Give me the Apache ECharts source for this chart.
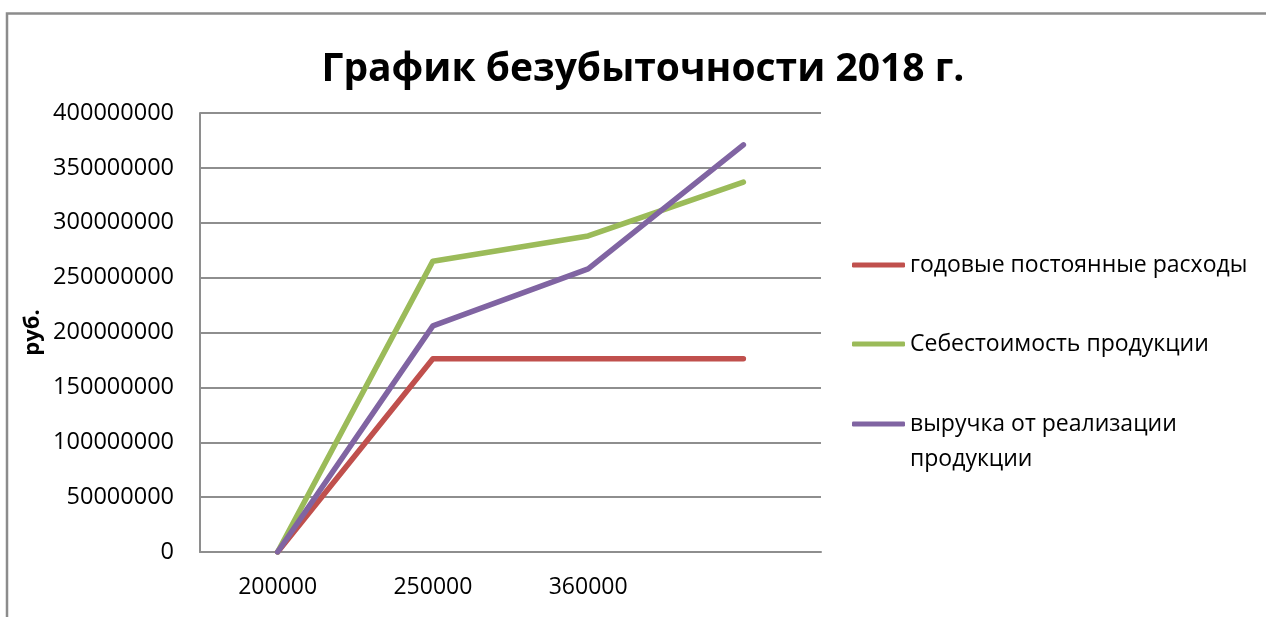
<!DOCTYPE html>
<html>
<head>
<meta charset="utf-8">
<script src="https://cdn.jsdelivr.net/npm/echarts@6/dist/echarts.min.js"></script>
<style>
html,body{margin:0;padding:0;background:#fff;}
#c{width:1266px;height:617px;}
</style>
</head>
<body>
<div id="c"></div>
<script>
var titleText = 'График безубыточности 2018 г.';
var yAxisName = 'руб.';
var categories = ['200000', '250000', '360000', ''];
var seriesNames = ['годовые постоянные расходы', 'Себестоимость продукции', 'выручка от реализации продукции'];
var fixedCosts = [0, 176000000, 176000000, 176000000];
var productCost = [0, 265000000, 288000000, 337000000];
var revenue = [0, 206000000, 258000000, 371000000];
var colors = ['#C0504D', '#9BBB59', '#8064A2'];

var FONT = '"Open Sans", "Noto Sans", sans-serif';
var chart = echarts.init(document.getElementById('c'), null, {renderer: 'canvas'});

function legendFor(i, top) {
  return {
    data: [seriesNames[i]],
    left: 852,
    top: top,
    padding: 0,
    orient: 'vertical',
    icon: 'roundRect',
    itemWidth: 53,
    itemHeight: 5,
    selectedMode: false,
    formatter: function (name) {
      if (name === seriesNames[2]) return ' \nвыручка от реализации\nпродукции';
      return name;
    },
    textStyle: {fontFamily: FONT, fontSize: 23, color: '#000', lineHeight: 35}
  };
}

var series = [fixedCosts, productCost, revenue].map(function (d, i) {
  return {
    name: seriesNames[i],
    type: 'line',
    data: d,
    symbol: 'none',
    showSymbol: false,
    lineStyle: {color: colors[i], width: 5.5, cap: 'round', join: 'round'},
    itemStyle: {color: colors[i]}
  };
});

chart.setOption({
  animation: false,
  backgroundColor: '#fff',
  title: {
    text: titleText,
    left: 638,
    top: 45,
    textAlign: 'center',
    textStyle: {fontFamily: FONT, fontSize: 39, fontWeight: 'bold', color: '#000'}
  },
  graphic: [{
    type: 'rect',
    shape: {x: 7, y: 13.5, width: 1400, height: 800},
    style: {fill: 'none', stroke: '#8c8c8c', lineWidth: 2.5},
    silent: true
  }],
  legend: [legendFor(0, 247.5), legendFor(1, 326.5), legendFor(2, 371.5)],
  grid: {left: 200, top: 113, right: 445, bottom: 65, containLabel: false},
  xAxis: {
    type: 'category',
    data: categories,
    boundaryGap: true,
    axisLine: {show: true, lineStyle: {color: '#8e8e8e', width: 2}},
    axisTick: {show: false},
    axisLabel: {fontFamily: FONT, fontSize: 23, color: '#000', margin: 24, interval: 0}
  },
  yAxis: {
    type: 'value',
    min: 0,
    max: 400000000,
    interval: 50000000,
    name: yAxisName,
    nameLocation: 'middle',
    nameGap: 156,
    nameRotate: 90,
    nameTextStyle: {fontFamily: FONT, fontSize: 22, fontWeight: 'bold', color: '#000'},
    axisLine: {show: true, lineStyle: {color: '#8e8e8e', width: 2}},
    axisTick: {show: false},
    axisLabel: {fontFamily: FONT, fontSize: 23.5, color: '#000', margin: 26, formatter: function (v) { return String(v); }},
    splitLine: {show: true, lineStyle: {color: '#8e8e8e', width: 2}}
  },
  series: series
});
</script>
</body>
</html>
